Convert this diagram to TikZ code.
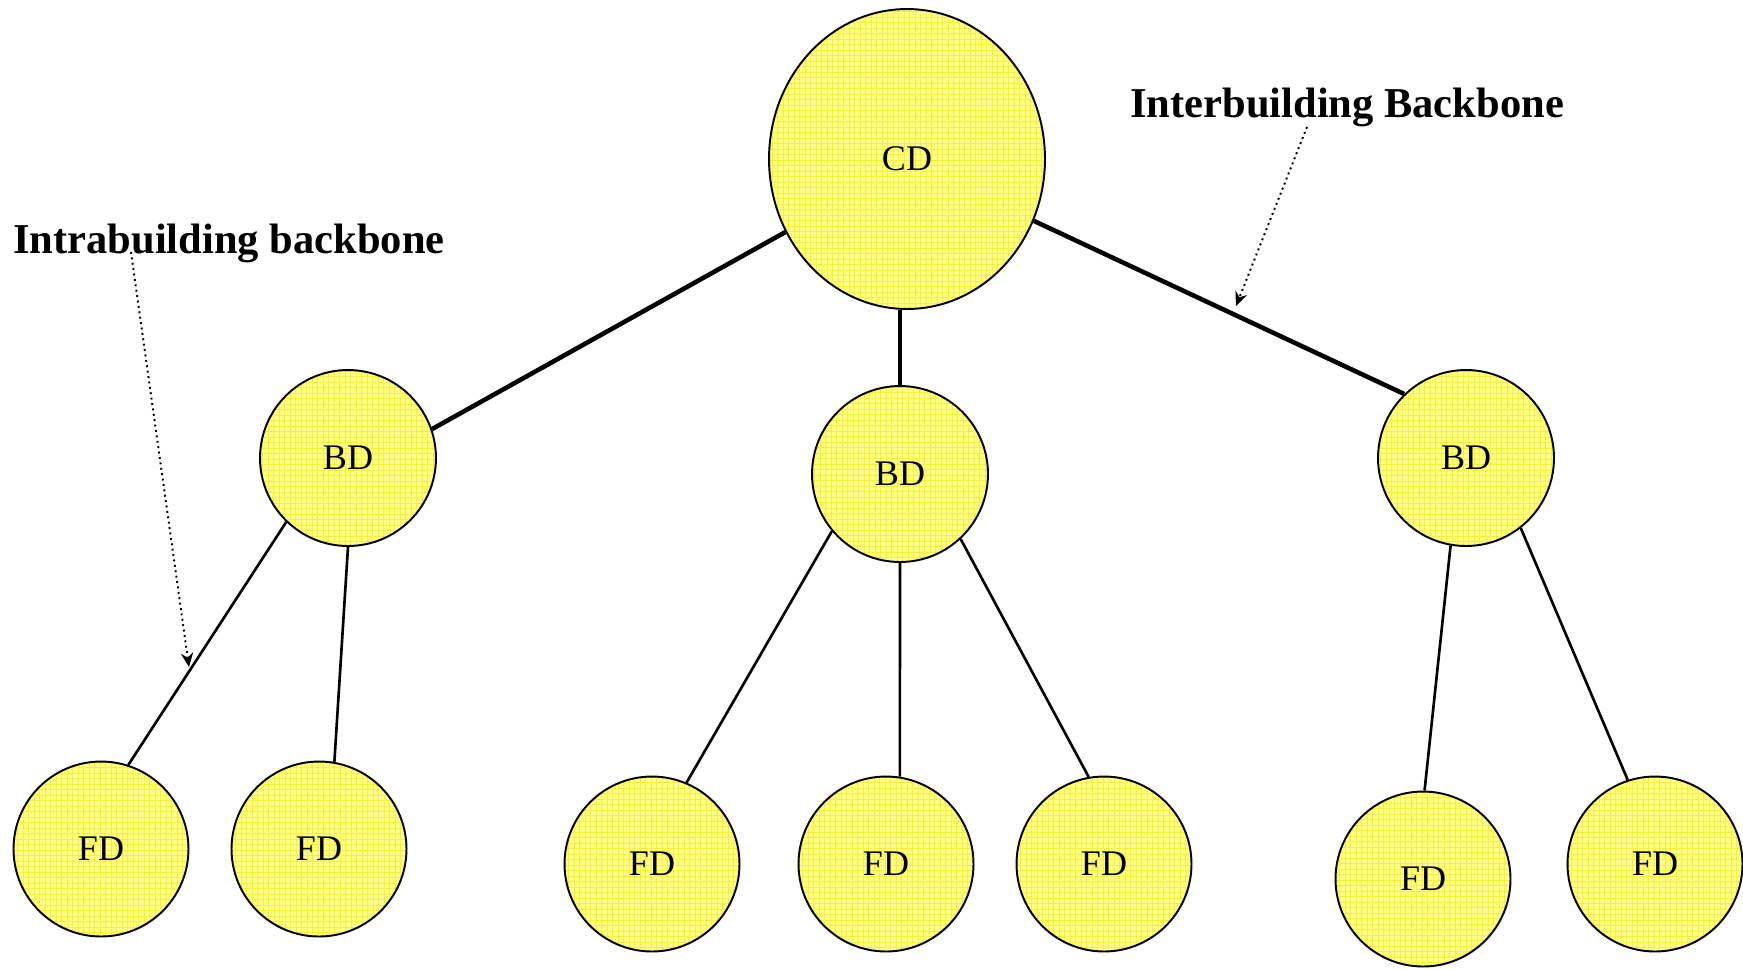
\documentclass[tikz,border=0pt]{standalone}
\usepackage{fontspec}
\setmainfont{Liberation Serif}
\usetikzlibrary{shapes.geometric,arrows.meta}
\definecolor{padyellow}{RGB}{255,255,135}
\definecolor{padgrid}{RGB}{245,240,60}
\begin{document}
\begin{tikzpicture}[x=0.02cm,y=-0.02cm,
  dist/.style={draw,line width=1.1pt,fill=padyellow,inner sep=0pt,font=\fontsize{20.5}{24}\selectfont,
    path picture={\draw[padgrid,line width=0.25pt] (path picture bounding box.south west) grid[step=0.11cm] (path picture bounding box.north east);}},
  cdnode/.style={dist,ellipse,minimum width=5.52cm,minimum height=6cm},
  bdnode/.style={dist,circle,minimum size=3.52cm},
  fdnode/.style={dist,circle,minimum size=3.5cm},
  trunk/.style={line width=2.6pt},
  branch/.style={line width=1.5pt},
  callout/.style={dotted,line width=1.1pt,-{Stealth[length=8pt,width=7pt]}},
  tag/.style={inner sep=0pt,anchor=base west,font=\fontsize{24.2}{29}\selectfont\bfseries}]
  \useasboundingbox (0,0) rectangle (1743,968);
  % distributors
  \node[cdnode] (cd) at (907,159) {CD};
  \node[bdnode] (bdl) at (348,458) {BD};
  \node[bdnode] (bdm) at (900,474) {BD};
  \node[bdnode] (bdr) at (1466,458) {BD};
  \node[fdnode] (fd1) at (101,849) {FD};
  \node[fdnode] (fd2) at (319,849) {FD};
  \node[fdnode] (fd3) at (652,864) {FD};
  \node[fdnode] (fd4) at (886,864) {FD};
  \node[fdnode] (fd5) at (1104,864) {FD};
  \node[fdnode] (fd6) at (1423,879) {FD};
  \node[fdnode] (fd7) at (1655,864) {FD};
  % backbone cabling
  \draw[trunk] (cd.-149) -- (bdl.19);
  \draw[trunk] (cd.south -| bdm) -- (bdm);
  \draw[trunk] (cd.-26) -- (bdr.134);
  \draw[branch] (bdl.226) -- (fd1.72);
  \draw[branch] (bdl.270) -- (fd2.80);
  \draw[branch] (bdm.220) -- (fd3.67);
  \draw[branch] (bdm.270) -- (fd4.81);
  \draw[branch] (bdm.-47) -- (fd5.100);
  \draw[branch] (bdr.260) -- (fd6.89);
  \draw[branch] (bdr.-52) -- (fd7.108);
  % labels
  \node[tag] (intra) at (13,253) {Intrabuilding backbone};
  \node[tag] (inter) at (1130,117) {Interbuilding Backbone};
  \coordinate (intrafrom) at (131,252);
  \coordinate (intrato) at (189,667);
  \coordinate (interfrom) at (1307,127);
  \coordinate (interto) at (1236,306);
  \draw[callout] (intrafrom) -- (intrato);
  \draw[callout] (interfrom) -- (interto);
\end{tikzpicture}
\end{document}
